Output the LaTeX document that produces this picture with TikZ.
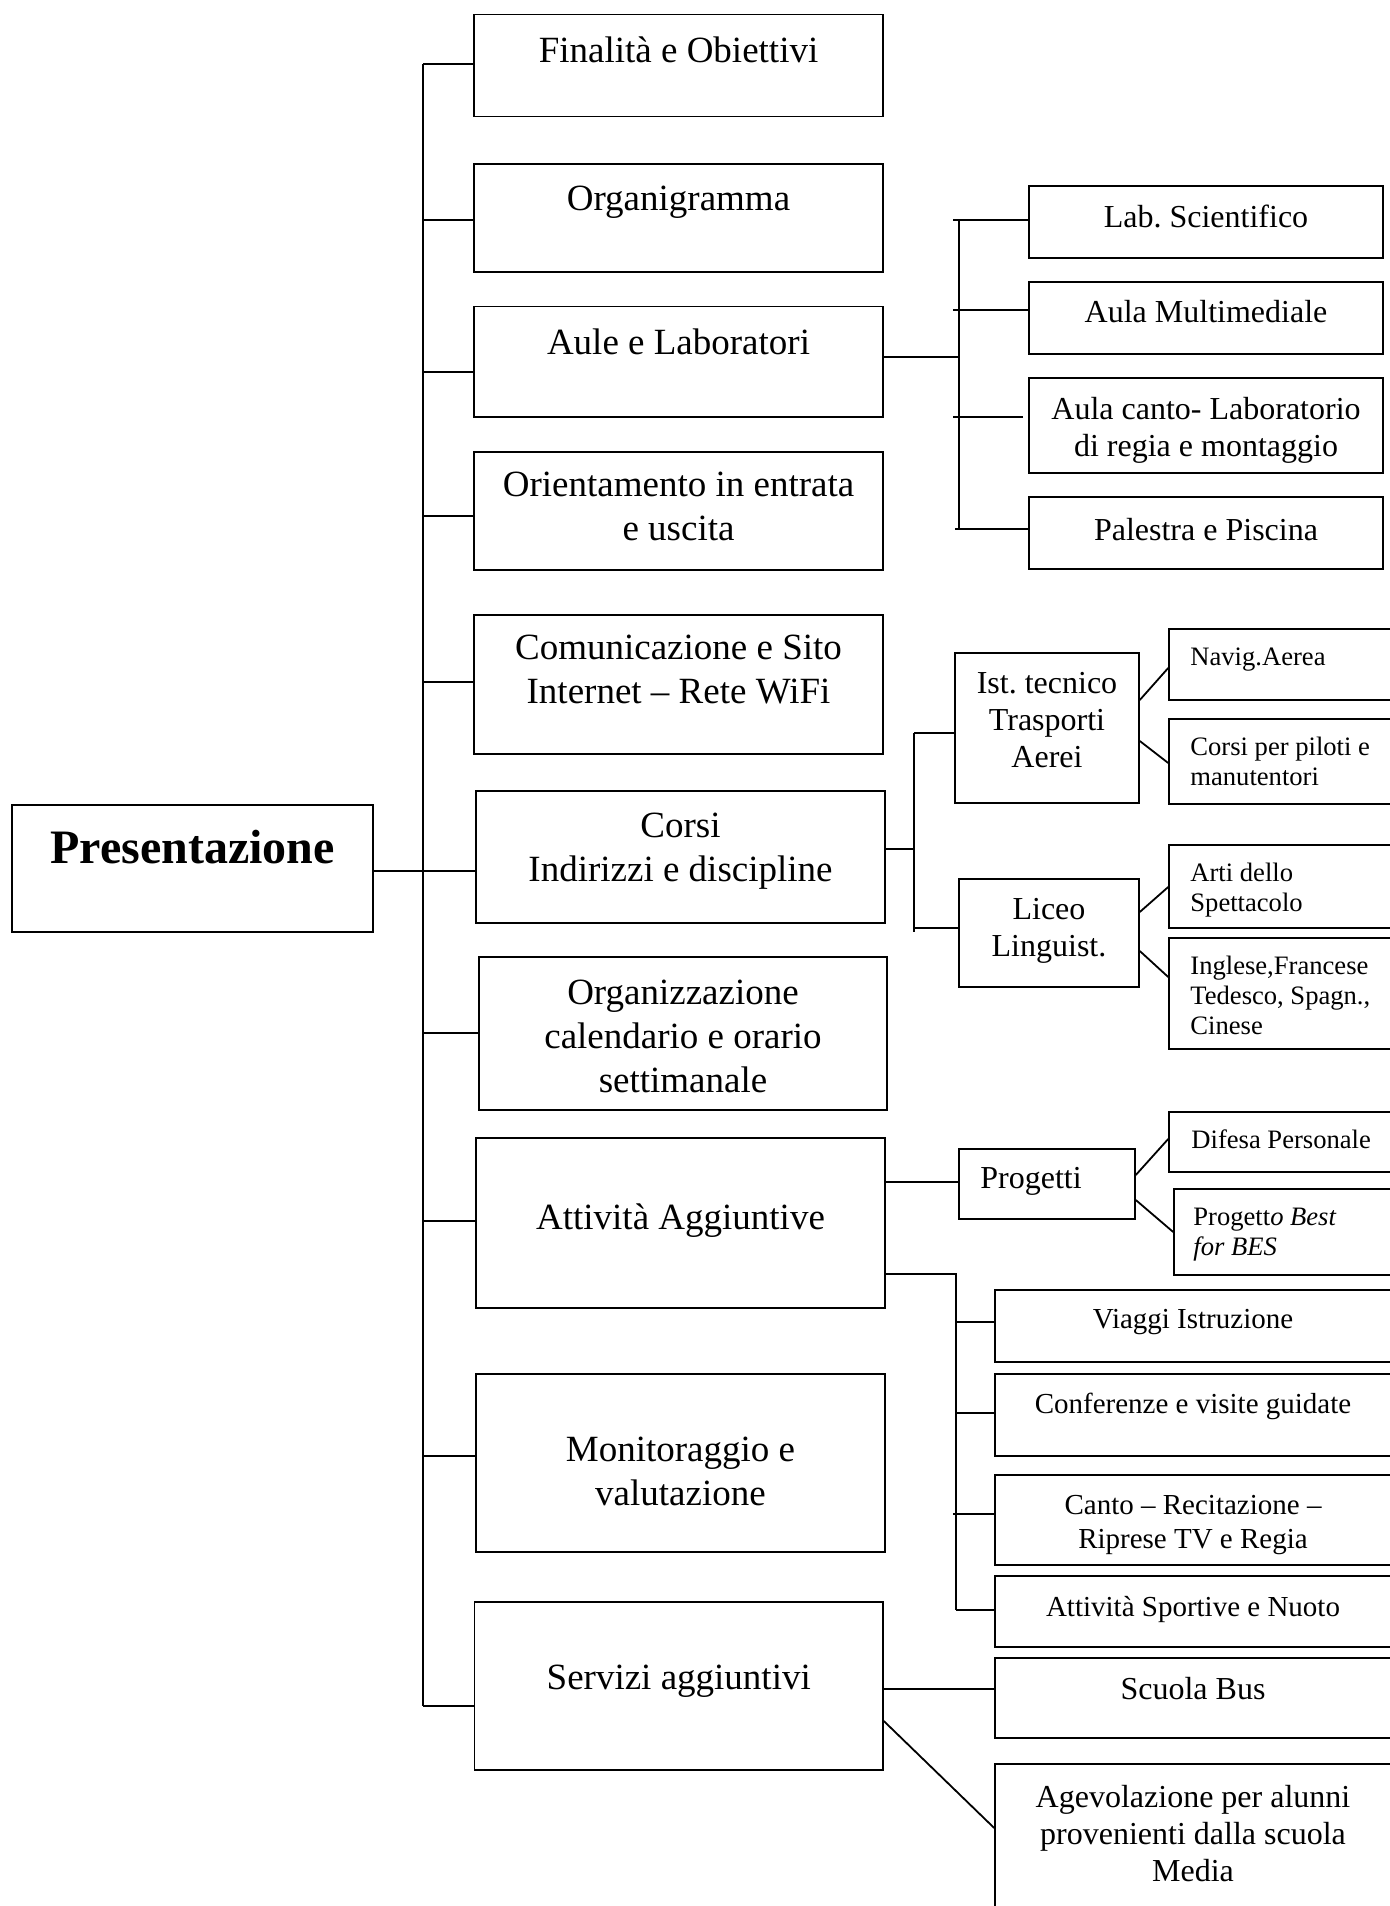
\documentclass[tikz,border=0pt]{standalone}
\usepackage{fontspec}
\setmainfont{Liberation Serif}
\usetikzlibrary{calc,fit}
\frenchspacing
\newcommand\titolo{\bfseries\fontsize{24}{28}\selectfont}
\newcommand\grande{\fontsize{18.5}{22}\selectfont}
\newcommand\medio{\fontsize{16}{18.4}\selectfont}
\newcommand\piccolo{\fontsize{14.5}{17}\selectfont}
\newcommand\minimo{\fontsize{13.3}{15}\selectfont}
\tikzset{
  box/.style={draw, line width=0.8pt, inner sep=0pt},
  txt/.style={inner sep=0pt, align=center},
  conn/.style={line width=0.9pt}
}
\begin{document}
\begin{tikzpicture}[x=0.5pt, y=-0.5pt]
	%%%%% START %%%%%
	\useasboundingbox (0,0) rectangle (1390,1906);
	
	% Presentazione
	\node[box, fit={(12,805) (373,932)}] (pres) {};
	\node[txt, font=\titolo, anchor=north] (pres-t) at (pres.north |- 0,830) {Presentazione};
	
	% colonna centrale
	\node[box, fit={(474,14.5) (883,116.3)}] (fin) {};
	\node[txt, font=\grande, anchor=north] (fin-t) at (fin.north |- 0,36) {Finalità e Obiettivi};
	\node[box, fit={(474,164) (883,272)}] (org) {};
	\node[txt, font=\grande, anchor=north] (org-t) at (org.north |- 0,186) {Organigramma};
	\node[box, fit={(474,306.5) (883,416.8)}] (aule) {};
	\node[txt, font=\grande, anchor=north] (aule-t) at (aule.north |- 0,328) {Aule e Laboratori};
	\node[box, fit={(474,452) (883,570)}] (ori) {};
	\node[txt, font=\grande, anchor=north] (ori-t) at (ori.north |- 0,472) {Orientamento in entrata\\e uscita};
	\node[box, fit={(474,615) (883,754)}] (com) {};
	\node[txt, font=\grande, anchor=north] (com-t) at (com.north |- 0,635) {Comunicazione e Sito\\Internet – Rete WiFi};
	\node[box, fit={(476,791) (885,923)}] (corsi) {};
	\node[txt, font=\grande, anchor=north] (corsi-t) at (corsi.north |- 0,813) {Corsi\\Indirizzi e discipline};
	\node[box, fit={(479,957) (887,1110)}] (orgz) {};
	\node[txt, font=\grande, anchor=north] (orgz-t) at (orgz.north |- 0,980) {Organizzazione\\calendario e orario\\settimanale};
	\node[box, fit={(476,1138) (885,1308)}] (att) {};
	\node[txt, font=\grande, anchor=north] (att-t) at (att.north |- 0,1203) {Attività Aggiuntive};
	\node[box, fit={(476,1374) (885,1552)}] (mon) {};
	\node[txt, font=\grande, anchor=north] (mon-t) at (mon.north |- 0,1437) {Monitoraggio e\\valutazione};
	\node[box, fit={(474.5,1602) (883,1770)}] (serv) {};
	\node[txt, font=\grande, anchor=north] (serv-t) at (serv.north |- 0,1665) {Servizi aggiuntivi};
	
	% aule e laboratori
	\node[box, fit={(1029,186) (1383,258)}] (lab) {};
	\node[txt, font=\medio, anchor=north] (lab-t) at (lab.north |- 0,205) {Lab. Scientifico};
	\node[box, fit={(1029,282) (1383,354)}] (multi) {};
	\node[txt, font=\medio, anchor=north] (multi-t) at (multi.north |- 0,300) {Aula Multimediale};
	\node[box, fit={(1029,378) (1383,473)}] (canto) {};
	\node[txt, font=\medio, anchor=north] (canto-t) at (canto.north |- 0,397) {Aula canto- Laboratorio\\di regia e montaggio};
	\node[box, fit={(1029,497) (1383,569)}] (pal) {};
	\node[txt, font=\medio, anchor=north] (pal-t) at (pal.north |- 0,518) {Palestra e Piscina};
	
	% corsi
	\node[box, fit={(955,653) (1139,803)}] (ist) {};
	\node[txt, font=\medio, anchor=north] (ist-t) at (ist.north |- 0,672) {Ist. tecnico\\Trasporti\\Aerei};
	\node[box, fit={(959,879) (1139,987)}] (liceo) {};
	\node[txt, font=\medio, anchor=north] (liceo-t) at (liceo.north |- 0,898) {Liceo\\Linguist.};
	\node[box, fit={(1169,629) (1395,700)}] (nav) {};
	\node[txt, font=\minimo, align=left, anchor=north west] (nav-t) at (1190,647) {Navig.Aerea};
	\node[box, fit={(1169,719) (1395,804)}] (pil) {};
	\node[txt, font=\minimo, align=left, anchor=north west] (pil-t) at (1190,737) {Corsi per piloti e\\manutentori};
	\node[box, fit={(1169,845) (1395,928)}] (arti) {};
	\node[txt, font=\minimo, align=left, anchor=north west] (arti-t) at (1190,863) {Arti dello\\Spettacolo};
	\node[box, fit={(1169,938) (1395,1049)}] (lingue) {};
	\node[txt, font=\minimo, align=left, anchor=north west] (lingue-t) at (1190,956) {Inglese,Francese\\Tedesco, Spagn.,\\Cinese};
	
	% attivita aggiuntive
	\node[box, fit={(959,1149) (1135,1219)}] (prog) {};
	\node[txt, font=\medio, align=left, anchor=north west] (prog-t) at (980,1167) {Progetti};
	\node[box, fit={(1169,1112) (1395,1172)}] (dif) {};
	\node[txt, font=\minimo, align=left, anchor=north west] (dif-t) at (1191,1129) {Difesa Personale};
	\node[box, fit={(1174,1189) (1395,1275)}] (best) {};
	\node[txt, font=\minimo, align=left, anchor=north west] (best-t) at (1193,1208) {Progett\textit{o Best}\\\textit{for BES}};
	\node[box, fit={(995,1290) (1395,1362)}] (viaggi) {};
	\node[txt, font=\piccolo, anchor=north] (viaggi-t) at (1193,1309) {Viaggi Istruzione};
	\node[box, fit={(995,1374) (1395,1456)}] (conf) {};
	\node[txt, font=\piccolo, anchor=north] (conf-t) at (1193,1393) {Conferenze e visite guidate};
	\node[box, fit={(995,1475) (1395,1565)}] (reg) {};
	\node[txt, font=\piccolo, anchor=north] (reg-t) at (1193,1495) {Canto – Recitazione –\\Riprese TV e Regia};
	\node[box, fit={(995,1576) (1395,1647)}] (sport) {};
	\node[txt, font=\piccolo, anchor=north] (sport-t) at (1193,1596) {Attività Sportive e Nuoto};
	
	% servizi
	\node[box, fit={(995,1658) (1395,1738)}] (bus) {};
	\node[txt, font=\medio, anchor=north] (bus-t) at (1193,1677) {Scuola Bus};
	\node[box, fit={(995,1764) (1395,1915)}] (agev) {};
	\node[txt, font=\medio, anchor=north] (agev-t) at (1193,1785) {Agevolazione per alunni\\provenienti dalla scuola\\Media};
	
	% tronco principale
	\coordinate (tr1) at (423,64);
	\coordinate (tr2) at (423,1706);
	\draw[conn] (tr1) -- (tr2);
	\draw[conn] (fin.west) ++(0,-1.4) coordinate (p) -- (p -| tr1);
	\draw[conn] (org.west) ++(0,2) coordinate (p) -- (p -| tr1);
	\draw[conn] (aule.west) ++(0,10) coordinate (p) -- (p -| tr1);
	\draw[conn] (ori.west) ++(0,5) coordinate (p) -- (p -| tr1);
	\draw[conn] (com.west) ++(0,-2.5) coordinate (p) -- (p -| tr1);
	\draw[conn] (pres.east) ++(0,2.5) coordinate (p) -- (p -| corsi.west);
	\draw[conn] (orgz.west) ++(0,-0.5) coordinate (p) -- (p -| tr1);
	\draw[conn] (att.west) ++(0,-2) coordinate (p) -- (p -| tr1);
	\draw[conn] (mon.west) ++(0,-7) coordinate (p) -- (p -| tr1);
	\draw[conn] (serv.west) ++(0,20) coordinate (p) -- (p -| tr1);
	
	% rami aule
	\coordinate (au1) at (959,220);
	\coordinate (au2) at (959,529);
	\draw[conn] (au1) -- (au2);
	\draw[conn] (aule.east) ++(0,-4.6) coordinate (p) -- (p -| au1);
	\draw[conn] (lab.west) ++(0,-2) coordinate (p) -- ($(p -| au1)+(-6,0)$);
	\draw[conn] (multi.west) ++(0,-8) coordinate (p) -- ($(p -| au1)+(-6,0)$);
	\draw[conn] ($(canto.west)+(-5,-8.5)$) coordinate (p) -- ($(p -| au1)+(-6,0)$);
	\draw[conn] (pal.west) ++(0,-4) coordinate (p) -- ($(p -| au1)+(-4,0)$);
	
	% rami corsi
	\coordinate (co1) at (914,733);
	\coordinate (co2) at (914,932);
	\draw[conn] (co1) -- (co2);
	\draw[conn] (corsi.east) ++(0,-8) coordinate (p) -- (p -| co1);
	\draw[conn] (ist.west) ++(0,5) coordinate (p) -- (p -| co1);
	\draw[conn] (liceo.west) ++(0,-5) coordinate (p) -- (p -| co1);
	\draw[conn] ($(ist.east)+(0,-28)$) -- ($(nav.west)+(0,3.5)$);
	\draw[conn] ($(ist.east)+(0,13)$) -- ($(pil.west)+(0,1.5)$);
	\draw[conn] ($(liceo.east)+(0,-21)$) -- ($(arti.west)+(0,0.5)$);
	\draw[conn] ($(liceo.east)+(0,18)$) -- ($(lingue.west)+(0,-16.5)$);
	
	% rami attivita
	\draw[conn] (att.east) ++(0,-41) coordinate (p) -- (p -| prog.west);
	\draw[conn] ($(prog.east)+(0,-9)$) -- ($(dif.west)+(0,-3)$);
	\draw[conn] ($(prog.east)+(0,16)$) -- (best.west);
	\coordinate (at1) at (956,1274);
	\coordinate (at2) at (956,1610);
	\draw[conn] (att.east) ++(0,51) -- (at1) -- (at2);
	\draw[conn] (viaggi.west) ++(0,-4) coordinate (p) -- (p -| at1);
	\draw[conn] (conf.west) ++(0,-2) coordinate (p) -- (p -| at1);
	\draw[conn] (reg.west) ++(0,-6) coordinate (p) -- ($(p -| at1)+(-3,0)$);
	\draw[conn] (sport.west) ++(0,-1.5) coordinate (p) -- (p -| at1);
	
	% rami servizi
	\draw[conn] (serv.east) ++(0,3) coordinate (p) -- (p -| bus.west);
	\draw[conn] (serv.east) ++(0,35) -- ($(agev.west)+(0,-11.5)$);
	
	%%%%% END %%%%%
\end{tikzpicture}
\end{document}
